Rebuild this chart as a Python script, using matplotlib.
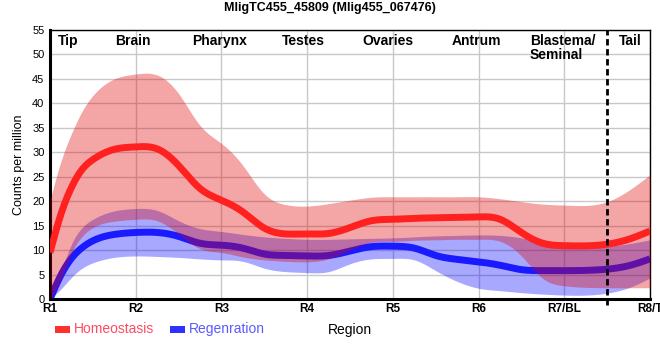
import numpy as np
import matplotlib
matplotlib.use("Agg")
import matplotlib.pyplot as plt
from matplotlib.patches import Rectangle

plt.rcParams['font.family'] = ['Liberation Sans', 'DejaVu Sans']

# sample positions along the body (1 = R1 ... 8 = R8/T)
pos = [1, 1.125, 1.25, 1.375, 1.5, 1.75, 2, 2.25, 2.5, 2.75, 3, 3.25, 3.5, 3.75,
       4, 4.25, 4.5, 4.75, 5, 5.25, 5.5, 5.75, 6, 6.25, 6.5, 6.75, 7, 7.5, 7.75, 8]
region_ticks = [1, 2, 3, 4, 5, 6, 7, 8]
region_labels = ["R1", "R2", "R3", "R4", "R5", "R6", "R7/BL", "R8/T"]

homeo_mean = [9.5, 17.2, 22.8, 26.5, 28.5, 30.6, 31.1, 30.7, 27.3, 22.6, 20.2, 17.8, 14.5, 13.3,
              13.3, 13.4, 14.6, 16.0, 16.3, 16.5, 16.6, 16.7, 16.8, 16.3, 13.6, 11.4, 10.9, 11.2, 12.2, 13.9]
homeo_hi = [20.2, 28.0, 33.8, 38.4, 41.6, 45.0, 46.0, 45.8, 42.0, 35.5, 31.8, 27.3, 21.5, 19.3,
            19.0, 19.5, 20.2, 20.8, 20.9, 20.9, 20.9, 20.9, 20.9, 20.5, 19.9, 19.4, 19.2, 19.9, 22.2, 25.4]
homeo_lo = [0.0, 4.0, 9.3, 12.8, 14.6, 15.9, 16.3, 16.0, 13.3, 10.3, 9.5, 8.6, 8.0, 7.7,
            7.6, 8.2, 10.0, 11.6, 11.8, 12.0, 12.1, 12.2, 12.2, 11.8, 8.8, 4.2, 2.7, 2.3, 2.3, 2.3]

regen_mean = [0.0, 4.8, 8.3, 10.5, 11.9, 13.2, 13.6, 13.6, 12.8, 11.4, 11.0, 10.4, 9.2, 8.9,
              8.8, 8.9, 9.8, 10.7, 10.8, 10.4, 8.9, 8.1, 7.6, 6.9, 6.0, 5.8, 5.8, 6.1, 6.8, 8.2]
regen_hi = [0.0, 5.5, 11.2, 14.6, 16.3, 18.0, 18.5, 18.1, 16.0, 14.4, 13.8, 13.2, 12.7, 12.4,
            12.2, 12.2, 12.3, 12.4, 12.5, 12.7, 12.9, 13.0, 13.1, 13.0, 12.5, 11.7, 11.2, 10.8, 11.3, 12.1]
regen_lo = [0.0, 2.0, 4.4, 6.3, 7.4, 8.5, 8.8, 8.7, 8.5, 8.2, 8.0, 7.7, 6.3, 5.6,
            5.4, 5.6, 7.2, 8.2, 8.3, 8.0, 5.8, 3.6, 2.2, 1.7, 1.3, 1.0, 0.8, 1.2, 2.3, 4.3]

tissues = ["Tip", "Brain", "Pharynx", "Testes", "Ovaries", "Antrum", "Blastema/\nSeminal", "Tail"]
tissue_x = [1.21, 1.97, 2.98, 3.96, 4.94, 5.98, 6.6, 7.77]


def smooth(x, y, xs):
    # natural cubic spline through the read points, just for drawing a smooth curve
    x = np.asarray(x, float)
    y = np.asarray(y, float)
    n = len(x)
    h = np.diff(x)
    A = np.zeros((n, n))
    r = np.zeros(n)
    A[0, 0] = A[-1, -1] = 1
    for i in range(1, n - 1):
        A[i, i - 1] = h[i - 1]
        A[i, i] = 2 * (h[i - 1] + h[i])
        A[i, i + 1] = h[i]
        r[i] = 6 * ((y[i + 1] - y[i]) / h[i] - (y[i] - y[i - 1]) / h[i - 1])
    M = np.linalg.solve(A, r)
    i = np.clip(np.searchsorted(x, xs) - 1, 0, n - 2)
    a = x[i + 1] - xs
    b = xs - x[i]
    hi = h[i]
    return (M[i] * a**3 / (6 * hi) + M[i + 1] * b**3 / (6 * hi)
            + (y[i] / hi - M[i] * hi / 6) * a + (y[i + 1] / hi - M[i + 1] * hi / 6) * b)


xs = np.linspace(1, 8, 700)

fig = plt.figure(figsize=(6.6, 3.6), dpi=100)
ax = fig.add_axes([50 / 660, 61 / 360, 600 / 660, 269 / 360])

ax.fill_between(xs, np.maximum(smooth(pos, regen_lo, xs), 0), smooth(pos, regen_hi, xs),
                color=(0, 0, 1), alpha=0.34, lw=0, zorder=1)
ax.plot(xs, smooth(pos, regen_mean, xs), color="#1a1aff", lw=5, zorder=2,
        solid_capstyle="butt")
ax.fill_between(xs, np.maximum(smooth(pos, homeo_lo, xs), 0), smooth(pos, homeo_hi, xs),
                color=(224 / 255, 0, 0), alpha=0.35, lw=0, zorder=3)
ax.plot(xs, smooth(pos, homeo_mean, xs), color="#ff2020", lw=5, zorder=4,
        solid_capstyle="butt")

# boundary between body and tail
ax.plot([7.5, 7.5], [-1.3, 55], color="black", lw=2, ls=(0, (2.3, 1.3)),
        clip_on=False, zorder=5)

ax.set_xlim(1, 8)
ax.set_ylim(0, 55)
ax.set_xticks(region_ticks)
ax.set_xticklabels(region_labels, fontsize=8.5, fontweight="bold")
ax.set_yticks(range(0, 56, 5))
ax.tick_params(axis="y", length=0, pad=4, labelsize=8)
ax.tick_params(axis="x", length=0, pad=3)
ax.grid(True, color="#c8c8c8", lw=1)
ax.set_axisbelow(True)

for side in ["left", "bottom"]:
    ax.spines[side].set_linewidth(2.2)
for side in ["top", "right"]:
    ax.spines[side].set_linewidth(1)

for name, x in zip(tissues, tissue_x):
    ha = "left" if "\n" in name else "center"
    ax.text(x, 54.2, name, ha=ha, va="top", fontsize=10, fontweight="bold",
            linespacing=1.0, zorder=6)

ax.set_ylabel("Counts per million", fontsize=9)
ax.yaxis.set_label_coords(-0.042, 0.5)
ax.set_xlabel("Region", fontsize=10)
ax.xaxis.set_label_coords(0.5, -0.09)

fig.text(330 / 660, 1 - 8 / 360, "MligTC455_45809 (Mlig455_067476)",
         ha="center", va="center", fontsize=9, fontweight="bold")

# legend drawn by hand below the axis
def px(x, y):
    return x / 660, 1 - y / 360

fig.add_artist(Rectangle(px(55, 333), 15 / 660, 7 / 360, transform=fig.transFigure,
                         color="#ff3030", lw=0))
fig.text(*px(74, 329), "Homeostasis", color="#ff4a62", fontsize=10, va="center")
fig.add_artist(Rectangle(px(170, 333), 15 / 660, 7 / 360, transform=fig.transFigure,
                         color="#3030ff", lw=0))
fig.text(*px(189, 329), "Regenration", color="#5a5aff", fontsize=10, va="center")

fig.savefig("out.png", dpi=100)
